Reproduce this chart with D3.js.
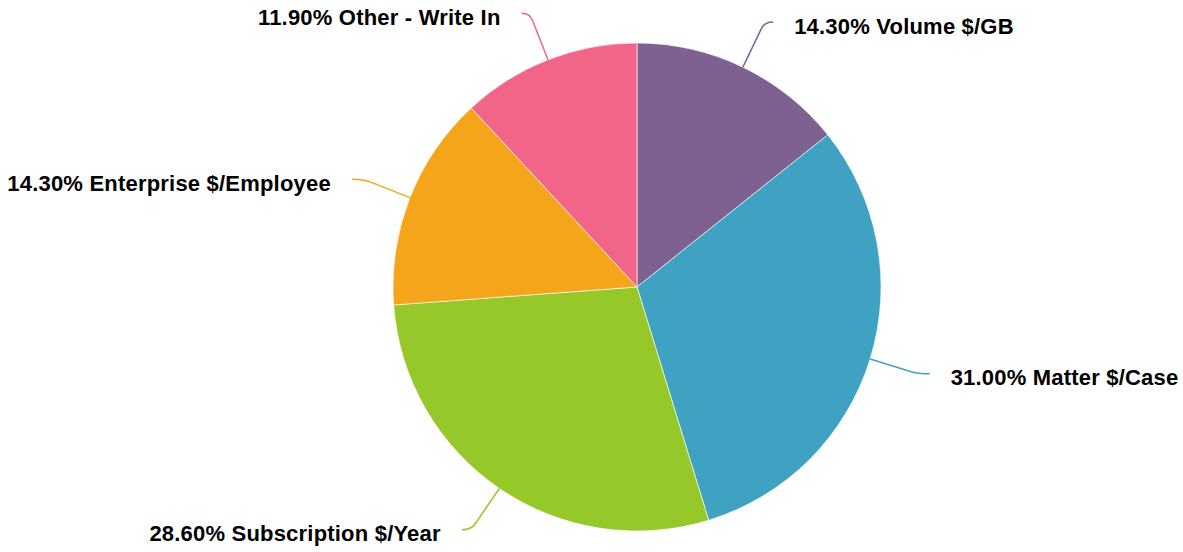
<!DOCTYPE html>
<html><head><meta charset="utf-8">
<script src="https://cdn.jsdelivr.net/npm/d3@7"></script>
<style>body{margin:0;background:#fff}svg{display:block}</style>
</head><body>
<svg id="c" width="1183" height="552"></svg>
<script>
const categories = ["Volume $/GB", "Matter $/Case", "Subscription $/Year", "Enterprise $/Employee", "Other - Write In"];
const values = [14.3, 31.0, 28.6, 14.3, 11.9];
const colors = ["#7D6190", "#3FA2C2", "#96C82A", "#F5A51A", "#F06588"];

const W = 1183, H = 552, cx = 637, cy = 287, r = 244;
const svg = d3.select("#c");
const g = svg.append("g").attr("transform", `translate(${cx},${cy})`);
const data = categories.map((c, i) => ({ name: c, value: values[i], color: colors[i] }));
const pie = d3.pie().value(d => d.value).sort(null);
const arcs = pie(data);
const arc = d3.arc().innerRadius(0).outerRadius(r);

g.selectAll("path.slice").data(arcs).join("path")
  .attr("class", "slice")
  .attr("d", arc)
  .attr("fill", d => d.data.color)
  .attr("stroke", "#ffffff").attr("stroke-opacity", 0.6).attr("stroke-width", 1);

const fmt = d3.format(".2f");
arcs.forEach(a => {
  const m = (a.startAngle + a.endAngle) / 2;
  const s = Math.sin(m), c = Math.cos(m);
  const sign = s >= 0 ? 1 : -1;
  const touch = [r * s, -r * c];
  const brk = [287 * s, -287 * c];
  const end = [300 * s + 6 * sign, -294 * c];
  let t = Math.abs(c) > 0.05 ? (brk[1] - end[1]) / c : 0;
  t = Math.max(t, 0);
  let ctrl = [brk[0] + t * s, end[1]];
  if ((ctrl[0] - end[0]) * sign > 0) ctrl[0] = end[0];
  const p = d3.path();
  p.moveTo(end[0], end[1]);
  p.quadraticCurveTo(ctrl[0], ctrl[1], brk[0], brk[1]);
  p.lineTo(touch[0], touch[1]);
  g.append("path").attr("d", p.toString()).attr("fill", "none")
    .attr("stroke", a.data.color).attr("stroke-width", 1.5);
  g.append("text")
    .attr("x", end[0] + 21 * sign).attr("y", end[1] + 11.5)
    .attr("text-anchor", sign > 0 ? "start" : "end")
    .attr("font-family", "Liberation Sans, Arial, Helvetica, sans-serif")
    .attr("font-weight", "bold").attr("font-size", "22px")
    .attr("letter-spacing", "0.2px").attr("fill", "#000")
    .text(fmt(a.data.value) + "% " + a.data.name);
});
</script>
</body></html>
